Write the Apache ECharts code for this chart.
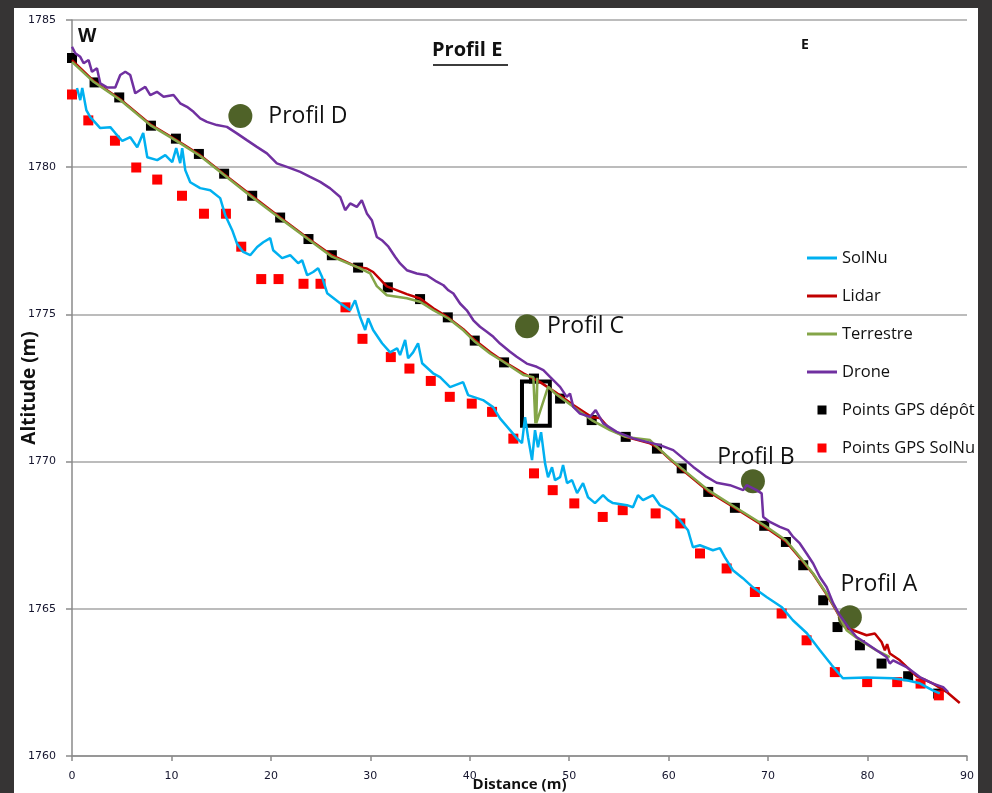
<!DOCTYPE html>
<html>
<head>
<meta charset="utf-8">
<title>Profil E</title>
<script src="https://cdn.jsdelivr.net/npm/echarts@6.0.0/dist/echarts.min.js"></script>
<style>
  html, body { margin: 0; padding: 0; background: #363434; }
  #chart { width: 992px; height: 793px; }
</style>
</head>
<body>
<div id="chart"></div>
<script>
// distance (m), altitude (m)
const solNu = [
  [0.5, 1782.69], [0.83, 1782.28], [1.03, 1782.69], [1.44, 1781.94], [1.84, 1781.7], [2.84, 1781.33],
  [3.85, 1781.36], [4.35, 1781.16], [5.06, 1780.89], [5.86, 1781.02], [6.56, 1780.68], [7.16, 1781.16],
  [7.57, 1780.34], [8.57, 1780.24], [9.38, 1780.41], [10.08, 1780.17], [10.48, 1780.65], [10.88, 1780.14],
  [11.08, 1780.65], [11.39, 1779.9], [11.89, 1779.49], [12.89, 1779.29], [13.9, 1779.22], [14.9, 1778.95],
  [15.41, 1778.37], [16.11, 1777.86], [16.61, 1777.39], [17.22, 1777.12], [17.92, 1777.01], [18.62, 1777.29],
  [19.23, 1777.45], [19.93, 1777.59], [20.23, 1777.18], [21.13, 1776.91], [21.94, 1777.01], [22.74, 1776.74],
  [23.14, 1776.84], [23.65, 1776.33], [24.25, 1776.44], [24.75, 1776.57], [25.15, 1776.27], [25.66, 1775.72],
  [26.96, 1775.38], [27.97, 1775.14], [28.47, 1775.48], [28.97, 1774.91], [29.48, 1774.47], [29.78, 1774.87],
  [30.28, 1774.47], [31.18, 1774.02], [31.99, 1773.71], [32.69, 1773.85], [32.99, 1773.62], [33.5, 1774.13],
  [33.8, 1773.51], [34.3, 1773.71], [34.8, 1774.02], [35.21, 1773.34], [36.31, 1773.0], [37.01, 1772.87],
  [38.02, 1772.53], [39.33, 1772.7], [39.83, 1772.26], [41.33, 1772.09], [42.34, 1771.85], [43.04, 1771.47],
  [44.05, 1771.07], [44.75, 1770.79], [45.25, 1770.63], [45.56, 1771.51], [45.86, 1770.83], [46.26, 1770.05],
  [46.56, 1771.07], [46.86, 1770.49], [47.17, 1771.0], [47.57, 1769.94], [47.87, 1769.47], [48.27, 1769.81],
  [48.57, 1769.37], [49.08, 1769.47], [49.38, 1769.88], [49.78, 1769.27], [50.28, 1769.37], [50.79, 1768.93],
  [51.39, 1769.27], [51.89, 1768.79], [52.59, 1768.59], [53.4, 1768.86], [53.9, 1768.69], [54.4, 1768.59],
  [55.81, 1768.52], [56.41, 1768.45], [56.91, 1768.86], [57.42, 1768.69], [58.42, 1768.86], [59.12, 1768.52],
  [60.13, 1768.35], [61.13, 1768.01], [61.94, 1767.67], [62.44, 1767.09], [63.14, 1767.16], [64.45, 1766.99],
  [65.15, 1767.06], [65.66, 1766.75], [66.46, 1766.31], [67.46, 1766.04], [68.47, 1765.73], [69.88, 1765.39],
  [71.39, 1765.05], [72.49, 1764.61], [73.9, 1764.17], [75.21, 1763.59], [76.41, 1763.08], [77.52, 1762.64],
  [79.93, 1762.67], [82.54, 1762.64], [83.95, 1762.57], [85.25, 1762.47], [86.56, 1762.23], [87.26, 1762.13]
]

const lidar = [
  [0, 1783.64], [2.17, 1782.93], [4.85, 1782.31], [7.87, 1781.46], [10.38, 1780.95], [12.89, 1780.41],
  [15.23, 1779.78], [17.92, 1779.07], [20.94, 1778.29], [23.72, 1777.59], [26.13, 1777.01], [28.64, 1776.61],
  [29.65, 1776.56], [30.28, 1776.44], [31.66, 1775.95], [33.67, 1775.69], [35.0, 1775.54], [36.34, 1775.21],
  [37.85, 1774.89], [39.35, 1774.5], [40.53, 1774.12], [42.04, 1773.72], [43.38, 1773.41], [45.39, 1773.0],
  [47.07, 1772.7], [48.59, 1772.36], [50.41, 1771.92], [52.26, 1771.51], [53.1, 1771.48], [54.1, 1771.1],
  [55.68, 1770.84], [58.12, 1770.62], [58.82, 1770.49], [60.13, 1770.08], [61.31, 1769.74], [63.98, 1768.99],
  [66.66, 1768.43], [69.61, 1767.8], [71.79, 1767.29], [73.2, 1766.73], [74.53, 1766.18], [75.88, 1765.49],
  [76.88, 1764.92], [77.83, 1764.34], [78.55, 1764.27], [79.9, 1764.1], [80.73, 1764.16], [81.41, 1763.87],
  [81.74, 1763.59], [81.97, 1763.8], [82.24, 1763.48], [83.25, 1763.25], [84.92, 1762.71], [86.59, 1762.46],
  [87.94, 1762.18], [89.27, 1761.8]
]

const terrestre = [
  [0, 1783.58], [2.17, 1782.9], [4.85, 1782.28], [7.87, 1781.43], [10.38, 1780.92], [12.89, 1780.38],
  [15.23, 1779.75], [17.92, 1779.03], [20.94, 1778.26], [23.72, 1777.56], [26.13, 1776.96], [28.81, 1776.59],
  [29.98, 1776.39], [30.65, 1775.96], [31.66, 1775.65], [33.67, 1775.55], [35.0, 1775.43], [36.34, 1775.14],
  [37.85, 1774.86], [39.35, 1774.46], [40.53, 1774.07], [42.04, 1773.67], [43.38, 1773.39], [45.39, 1772.94],
  [46.39, 1772.87], [46.6, 1771.3], [46.8, 1772.85], [46.68, 1771.3], [47.88, 1772.55], [48.59, 1772.31],
  [50.41, 1771.86], [52.26, 1771.41], [54.1, 1771.07], [55.68, 1770.84], [58.12, 1770.73], [58.82, 1770.5],
  [60.13, 1770.1], [61.31, 1769.77], [63.98, 1769.03], [66.66, 1768.46], [69.61, 1767.84], [71.79, 1767.33],
  [73.2, 1766.76], [74.53, 1766.2], [75.88, 1765.52], [76.88, 1764.95], [77.89, 1764.27], [79.23, 1763.93],
  [80.9, 1763.59], [82.24, 1763.36]
]

const drone = [
  [0, 1784.09], [0.16, 1784.15], [0.33, 1783.87], [0.83, 1783.75], [1.17, 1783.53], [1.67, 1783.64],
  [2.01, 1783.24], [2.51, 1783.36], [2.84, 1782.85], [3.52, 1782.71], [4.35, 1782.71], [4.85, 1783.13],
  [5.36, 1783.24], [5.86, 1783.13], [6.36, 1782.51], [6.86, 1782.62], [7.37, 1782.73], [7.87, 1782.45],
  [8.54, 1782.56], [9.21, 1782.39], [10.21, 1782.45], [10.88, 1782.17], [11.56, 1782.05], [12.22, 1781.88],
  [12.89, 1781.66], [13.57, 1781.54], [14.57, 1781.43], [15.58, 1781.37], [16.58, 1781.15], [17.58, 1780.92],
  [18.59, 1780.69], [19.6, 1780.47], [20.6, 1780.13], [21.61, 1780.01], [22.95, 1779.84], [23.95, 1779.67],
  [24.96, 1779.5], [25.96, 1779.28], [26.97, 1778.99], [27.47, 1778.54], [27.97, 1778.77], [28.64, 1778.65],
  [29.14, 1778.88], [29.65, 1778.43], [30.15, 1778.2], [30.65, 1777.63], [31.16, 1777.52], [31.82, 1777.3],
  [32.49, 1776.96], [32.99, 1776.73], [33.67, 1776.5], [34.67, 1776.39], [35.68, 1776.33], [36.68, 1776.11],
  [37.35, 1775.99], [37.85, 1775.82], [38.35, 1775.71], [39.02, 1775.37], [39.7, 1775.14], [40.36, 1774.8],
  [41.03, 1774.58], [41.71, 1774.41], [42.37, 1774.24], [43.04, 1774.01], [44.05, 1773.73], [44.72, 1773.56],
  [45.73, 1773.33], [46.73, 1773.22], [47.4, 1773.11], [48.07, 1772.88], [49.08, 1772.54], [49.75, 1772.2],
  [50.08, 1772.31], [50.41, 1771.86], [51.08, 1771.63], [52.09, 1771.52], [52.66, 1771.75], [53.42, 1771.3],
  [54.77, 1771.01], [56.44, 1770.79], [57.79, 1770.67], [59.12, 1770.56], [60.46, 1770.39], [61.46, 1770.11],
  [62.47, 1769.82], [63.82, 1769.48], [64.82, 1769.28], [66.16, 1769.2], [67.5, 1769.03], [67.84, 1769.2],
  [68.84, 1769.03], [69.35, 1768.92], [69.51, 1768.12], [70.18, 1767.95], [71.18, 1767.78], [72.02, 1767.67],
  [72.52, 1767.44], [73.19, 1767.22], [73.87, 1766.88], [74.53, 1766.54], [75.2, 1766.08], [75.88, 1765.74],
  [76.54, 1765.19], [77.21, 1764.78], [78.05, 1764.38], [78.89, 1764.04], [79.9, 1763.82], [80.9, 1763.59],
  [81.91, 1763.36], [82.24, 1763.14], [82.57, 1763.25], [83.92, 1763.02], [85.25, 1762.68], [86.59, 1762.46],
  [87.6, 1762.34], [88.1, 1762.17]
]

const gpsDepot = [
  [0, 1783.71], [2.27, 1782.88], [4.75, 1782.37], [7.94, 1781.41], [10.45, 1780.97], [12.76, 1780.45],
  [15.3, 1779.78], [18.12, 1779.03], [20.93, 1778.29], [23.78, 1777.56], [26.13, 1777.01], [28.77, 1776.59],
  [31.76, 1775.92], [35.0, 1775.52], [37.79, 1774.9], [40.5, 1774.11], [43.45, 1773.37], [46.46, 1772.82],
  [49.08, 1772.14], [52.26, 1771.41], [55.68, 1770.84], [58.82, 1770.44], [61.31, 1769.77], [63.98, 1768.97],
  [66.66, 1768.43], [69.61, 1767.82], [71.79, 1767.27], [73.53, 1766.48], [75.54, 1765.29], [76.98, 1764.38],
  [79.23, 1763.76], [81.41, 1763.14], [84.08, 1762.71], [87.1, 1762.12]
]

const gpsSolNu = [
  [0, 1782.47], [1.64, 1781.59], [4.32, 1780.9], [6.46, 1779.99], [8.57, 1779.58], [11.06, 1779.03],
  [13.27, 1778.42], [15.48, 1778.42], [17.02, 1777.3], [19.03, 1776.2], [20.77, 1776.2], [23.28, 1776.04],
  [24.99, 1776.04], [27.5, 1775.24], [29.21, 1774.17], [32.06, 1773.55], [33.93, 1773.16], [36.08, 1772.74],
  [37.99, 1772.2], [40.2, 1771.97], [42.24, 1771.69], [44.38, 1770.78], [46.46, 1769.6], [48.34, 1769.03],
  [50.51, 1768.58], [53.37, 1768.12], [55.38, 1768.35], [58.69, 1768.24], [61.17, 1767.9], [63.15, 1766.88],
  [65.83, 1766.37], [68.67, 1765.57], [71.36, 1764.84], [73.87, 1763.93], [76.71, 1762.85], [79.96, 1762.51],
  [82.98, 1762.51], [85.33, 1762.46], [87.17, 1762.06]
]

const profilNames = ['Profil D', 'Profil C', 'Profil B', 'Profil A']
const profilPos = [[16.93, 1781.74], [45.76, 1774.6], [68.47, 1769.33], [78.22, 1764.71]]

// black frame around the Terrestre spike
const boxCorners = [[45.25, 1772.72], [48.05, 1771.22]]

const legendNames = ['SolNu', 'Lidar', 'Terrestre', 'Drone', 'Points GPS dépôt', 'Points GPS SolNu']

const font = 'Open Sans'
const squareIcon = 'path://M0,0H10V10H0Z'
const lineIcon = 'path://M0,0H30V3H0Z'

const labelPlace = [
  { position: 'right', distance: 16 },
  { position: 'right', distance: 8 },
  { position: 'top', distance: 0, offset: [3, 0] },
  { position: 'top', distance: 9, offset: [29, 0] }
]

const chart = echarts.init(document.getElementById('chart'))

const option = {
  animation: false,
  backgroundColor: '#363434',
  textStyle: { fontFamily: font },
  graphic: [
    {
      type: 'rect',
      z: -10,
      silent: true,
      shape: { x: 14, y: 8, width: 964, height: 790 },
      style: { fill: '#ffffff' }
    },
    {
      type: 'text',
      left: 78,
      top: 27,
      style: { text: 'W', font: 'bold 19px "Open Sans"', fill: '#111' }
    },
    {
      type: 'text',
      left: 801,
      top: 38,
      style: { text: 'E', font: 'bold 14px "Open Sans"', fill: '#111' }
    },
    {
      type: 'text',
      left: 432,
      top: 40,
      style: { text: 'Profil E', font: 'bold 20px "Open Sans"', fill: '#111' }
    },
    {
      type: 'line',
      silent: true,
      shape: { x1: 433, y1: 65, x2: 508, y2: 65 },
      style: { stroke: '#3c3c3c', lineWidth: 2 }
    }
  ],
  grid: { left: 72, right: 25, top: 20, bottom: 37, outerBoundsMode: 'none', containLabel: false },
  legend: {
    orient: 'vertical',
    left: 807,
    top: 248,
    padding: 0,
    itemWidth: 30,
    itemHeight: 9,
    itemGap: 18,
    selectedMode: false,
    textStyle: { fontFamily: font, fontSize: 16.5, color: '#111', lineHeight: 20 },
    data: legendNames.map((n, i) => ({ name: n, icon: i < 4 ? lineIcon : squareIcon }))
  },
  xAxis: {
    type: 'value',
    min: 0,
    max: 90,
    interval: 10,
    name: 'Distance (m)',
    nameLocation: 'middle',
    nameGap: 21,
    nameMoveOverlap: false,
    nameTextStyle: { fontFamily: font, fontWeight: 'bold', fontSize: 15, color: '#111' },
    axisLine: { show: true, lineStyle: { color: '#8a8a8a', width: 1.5 } },
    axisTick: { show: true, length: 5, lineStyle: { color: '#8a8a8a', width: 1.5 } },
    axisLabel: { fontFamily: 'DejaVu Sans', fontSize: 11, color: '#15152e', margin: 15 },
    splitLine: { show: false }
  },
  yAxis: {
    type: 'value',
    min: 1760,
    max: 1785,
    interval: 5,
    name: 'Altitude (m)',
    nameLocation: 'middle',
    nameGap: 33,
    nameMoveOverlap: false,
    nameTextStyle: { fontFamily: font, fontWeight: 'bold', fontSize: 19, color: '#111' },
    axisLine: { show: true, lineStyle: { color: '#8a8a8a', width: 1.5 } },
    axisTick: { show: true, length: 6, lineStyle: { color: '#8a8a8a', width: 1.5 } },
    axisLabel: {
      fontFamily: 'DejaVu Sans',
      fontSize: 11,
      color: '#15152e',
      margin: 16,
      formatter: value => String(value)
    },
    splitLine: { show: true, lineStyle: { color: '#a6a6a6', width: 1.5 } }
  },
  series: [
    {
      name: 'SolNu',
      type: 'line',
      data: solNu,
      symbol: 'none',
      color: '#00b0f0',
      lineStyle: { width: 2.5 }
    },
    {
      name: 'Lidar',
      type: 'line',
      data: lidar,
      symbol: 'none',
      color: '#c00000',
      lineStyle: { width: 2.5 }
    },
    {
      name: 'Terrestre',
      type: 'line',
      data: terrestre,
      symbol: 'none',
      color: '#84a548',
      lineStyle: { width: 2.5 },
      markArea: {
        silent: true,
        itemStyle: { color: 'rgba(0,0,0,0)', borderColor: '#000', borderWidth: 4 },
        data: [[{ coord: boxCorners[0] }, { coord: boxCorners[1] }]]
      }
    },
    {
      name: 'Drone',
      type: 'line',
      data: drone,
      symbol: 'none',
      color: '#7030a0',
      lineStyle: { width: 2.5 }
    },
    {
      name: 'Points GPS dépôt',
      type: 'scatter',
      data: gpsDepot,
      symbol: 'rect',
      symbolSize: 10,
      color: '#000000',
      itemStyle: { opacity: 1 }
    },
    {
      name: 'Points GPS SolNu',
      type: 'scatter',
      data: gpsSolNu,
      symbol: 'rect',
      symbolSize: 10,
      color: '#ff0000',
      itemStyle: { opacity: 1 }
    },
    {
      name: 'Profils',
      type: 'scatter',
      symbol: 'circle',
      symbolSize: 24,
      color: '#4f6228',
      itemStyle: { opacity: 1 },
      data: profilNames.map((n, i) => ({
        name: n,
        value: profilPos[i],
        label: Object.assign({ show: true }, labelPlace[i])
      })),
      label: {
        formatter: '{b}',
        fontFamily: font,
        fontSize: 23,
        color: '#111'
      }
    }
  ]
}

chart.setOption(option)
</script>
</body>
</html>
